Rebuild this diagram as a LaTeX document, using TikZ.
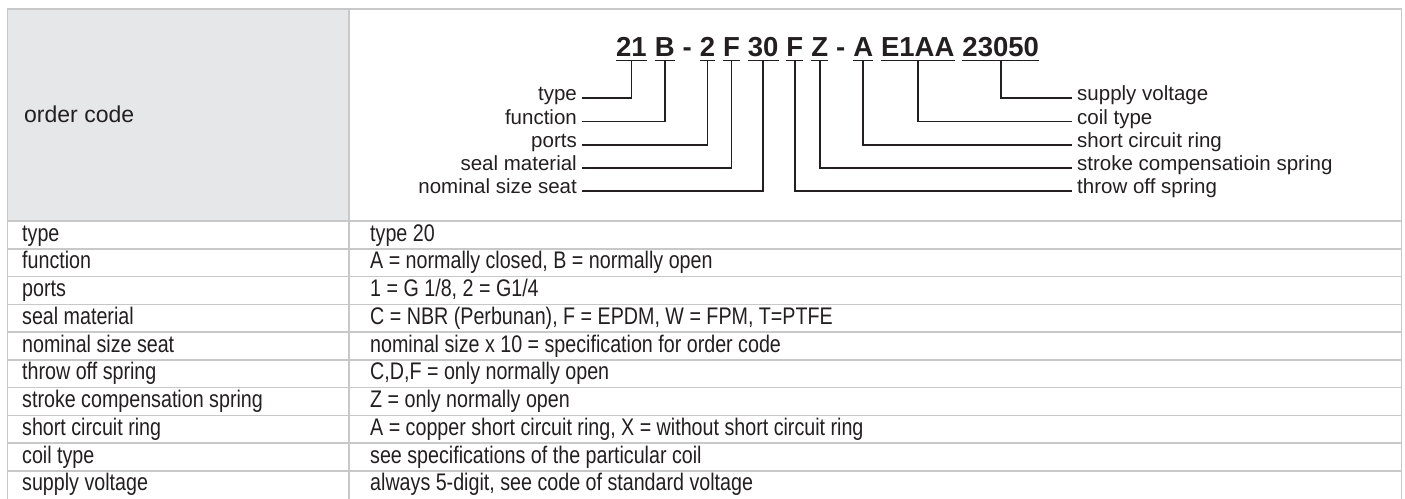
\documentclass[tikz,border=0pt]{standalone}
\usepackage{fontspec}
\setmainfont{Liberation Sans}
\newfontfamily\tabfont[FakeStretch=0.82]{Liberation Sans}
\definecolor{cC8C8C8}{RGB}{200,200,200}
\definecolor{cE6E7E8}{RGB}{230,231,232}
\definecolor{c231F20}{RGB}{35,31,32}
\usetikzlibrary{positioning}

\tikzset{
  codepart/.style={inner sep=0pt, text depth=3.6pt, font=\bfseries\fontsize{27.5}{30}\selectfont},
  tag/.style={inner xsep=5pt, inner ysep=0pt, font=\fontsize{20.5}{22}\selectfont},
  cell/.style={inner sep=0pt, anchor=base west, font=\tabfont\fontsize{24}{26}\selectfont},
  leader/.style={draw=c231F20, line width=1.8pt},
  grid/.style={draw=cC8C8C8, line width=1.5pt}
}

\begin{document}
\begin{tikzpicture}[y=1pt, x=1pt, yscale=-1, text=c231F20]
  \useasboundingbox (0,0) rectangle (1405,498);

  % table
  \path[fill=cE6E7E8] (7.5,9) rectangle (349,221);
  \path[grid] (7.5,500) -- (7.5,9) -- (1401.5,9) -- (1401.5,500);
  \path[grid] (349,9) -- (349,500);
  \path[grid] (7.5,221.00) -- (1401.5,221.00);
  \path[grid] (7.5,248.75) -- (1401.5,248.75);
  \path[grid] (7.5,276.50) -- (1401.5,276.50);
  \path[grid] (7.5,304.25) -- (1401.5,304.25);
  \path[grid] (7.5,332.00) -- (1401.5,332.00);
  \path[grid] (7.5,359.75) -- (1401.5,359.75);
  \path[grid] (7.5,387.50) -- (1401.5,387.50);
  \path[grid] (7.5,415.25) -- (1401.5,415.25);
  \path[grid] (7.5,443.00) -- (1401.5,443.00);
  \path[grid] (7.5,470.75) -- (1401.5,470.75);

  \node[inner sep=0pt, anchor=base west, font=\fontsize{23}{26}\selectfont]
    (ordercode) at (24,122.7) {order code};

  \node[cell] (kType)   at (22,241.20) {type};
  \node[cell] (kFunc)   at (22,268.95) {function};
  \node[cell] (kPorts)  at (22,296.70) {ports};
  \node[cell] (kSeal)   at (22,324.45) {seal material};
  \node[cell] (kSize)   at (22,352.20) {nominal size seat};
  \node[cell] (kThrow)  at (22,379.95) {throw off spring};
  \node[cell] (kStroke) at (22,407.70) {stroke compensation spring};
  \node[cell] (kRing)   at (22,435.45) {short circuit ring};
  \node[cell] (kCoil)   at (22,463.20) {coil type};
  \node[cell] (kVolt)   at (22,490.95) {supply voltage};

  \node[cell] (vType)   at (370,241.20) {type 20};
  \node[cell] (vFunc)   at (370,268.95) {A = normally closed, B = normally open};
  \node[cell] (vPorts)  at (370,296.70) {1 = G 1/8, 2 = G1/4};
  \node[cell] (vSeal)   at (370,324.45) {C = NBR (Perbunan), F = EPDM, W = FPM, T=PTFE};
  \node[cell] (vSize)   at (370,352.20) {nominal size x 10 = specification for order code};
  \node[cell] (vThrow)  at (370,379.95) {C,D,F = only normally open};
  \node[cell] (vStroke) at (370,407.70) {Z = only normally open};
  \node[cell] (vRing)   at (370,435.45) {A = copper short circuit ring, X = without short circuit ring};
  \node[cell] (vCoil)   at (370,463.20) {see specifications of the particular coil};
  \node[cell] (vVolt)   at (370,490.95) {always 5-digit, see code of standard voltage};

  % order code parts
  \node[codepart, anchor=base west] (cType) at (616,56.7) {21};
  \node[codepart, base right=7.6pt of cType]   (cFunc)   {B};
  \node[codepart, base right=7.6pt of cFunc]   (cDashA)  {-};
  \node[codepart, base right=7.6pt of cDashA]  (cPorts)  {2};
  \node[codepart, base right=7.6pt of cPorts]  (cSeal)   {F};
  \node[codepart, base right=7.6pt of cSeal]   (cSize)   {30};
  \node[codepart, base right=7.6pt of cSize]   (cThrow)  {F};
  \node[codepart, base right=7.6pt of cThrow]  (cStroke) {Z};
  \node[codepart, base right=7.6pt of cStroke] (cDashB)  {-};
  \node[codepart, base right=7.6pt of cDashB]  (cRing)   {A};
  \node[codepart, base right=7.6pt of cRing]   (cCoil)   {E1AA};
  \node[codepart, base right=7.6pt of cCoil]   (cVolt)   {23050};

  \foreach \part in {cType,cFunc,cPorts,cSeal,cSize,cThrow,cStroke,cRing,cCoil,cVolt}
    \path[leader] (\part.south west) -- (\part.south east);

  % labels
  \node[tag, anchor=mid east] (tType)   at (582,98.3)  {type};
  \node[tag, anchor=mid east] (tFunc)   at (582,121.5) {function};
  \node[tag, anchor=mid east] (tPorts)  at (582,144.7) {ports};
  \node[tag, anchor=mid east] (tSeal)   at (582,167.9) {seal material};
  \node[tag, anchor=mid east] (tSize)   at (582,191.1) {nominal size seat};
  \node[tag, anchor=mid west] (tVolt)   at (1072,98.3)  {supply voltage};
  \node[tag, anchor=mid west] (tCoil)   at (1072,121.5) {coil type};
  \node[tag, anchor=mid west] (tRing)   at (1072,144.7) {short circuit ring};
  \node[tag, anchor=mid west] (tStroke) at (1072,167.9) {stroke compensatioin spring};
  \node[tag, anchor=mid west] (tThrow)  at (1072,191.1) {throw off spring};

  \path[leader] (cType.south)   |- (tType.mid east);
  \path[leader] (cFunc.south)   |- (tFunc.mid east);
  \path[leader] (cPorts.south)  |- (tPorts.mid east);
  \path[leader] (cSeal.south)   |- (tSeal.mid east);
  \path[leader] (cSize.south)   |- (tSize.mid east);
  \path[leader] (cThrow.south)  |- (tThrow.mid west);
  \path[leader] (cStroke.south) |- (tStroke.mid west);
  \path[leader] (cRing.south)   |- (tRing.mid west);
  \path[leader] (cCoil.south)   |- (tCoil.mid west);
  \path[leader] (cVolt.south)   |- (tVolt.mid west);
\end{tikzpicture}
\end{document}
